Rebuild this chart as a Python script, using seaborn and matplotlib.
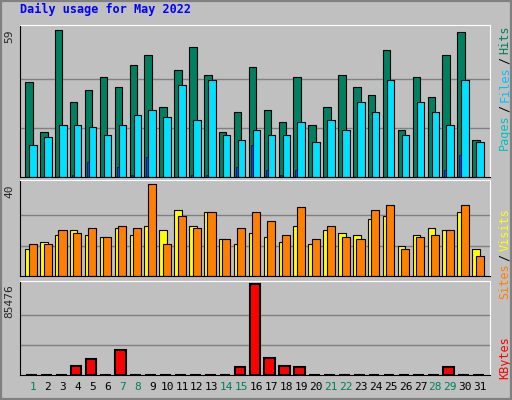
import numpy as np
import matplotlib
matplotlib.use('Agg')
import matplotlib.pyplot as plt
import seaborn as sns

sns.set_style('white')
plt.rcParams['font.family'] = ['DejaVu Sans Mono', 'DejaVu Sans']

days = np.arange(1, 32)
weekend = [1, 7, 8, 14, 15, 21, 22, 28, 29]
hits = [38, 18, 59, 30, 35, 40, 36, 45, 49, 28, 43, 52, 41, 18, 26, 44,
        27, 22, 40, 21, 28, 41, 36, 33, 51, 19, 40, 32, 49, 58, 15]
files = [13, 16, 21, 21, 20, 17, 21, 25, 27, 24, 37, 23, 39, 17, 15, 19,
         17, 17, 22, 14, 23, 19, 30, 26, 39, 17, 30, 26, 21, 39, 14]
pages = [0, 0, 0, 1, 6, 0, 4, 1, 8, 0, 0, 1, 1, 0, 4, 13,
         3, 1, 3, 0, 0, 0, 0, 0, 0, 0, 0, 0, 3, 9, 0]
sites = [12, 15, 18, 20, 18, 17, 21, 18, 22, 20, 29, 22, 28, 16, 14, 19,
         17, 15, 22, 14, 20, 19, 18, 25, 26, 13, 18, 21, 20, 28, 12]
visits = [14, 14, 20, 19, 21, 17, 22, 21, 40, 14, 26, 21, 28, 16, 21, 28,
          24, 18, 30, 16, 22, 17, 16, 29, 31, 12, 17, 18, 20, 31, 9]
kbytes = [0, 0, 0, 8450, 15030, 0, 23480, 0, 0, 0, 0, 0, 0, 0, 7510, 85476,
          15970, 8450, 7510, 0, 0, 0, 0, 0, 0, 0, 0, 0, 7510, 0, 0]

BG = '#C0C0C0'
fig = plt.figure(figsize=(5.12, 4.0), dpi=100, facecolor=BG)
fig.patches.append(plt.Rectangle((0, 0), 1, 1, transform=fig.transFigure,
                                 fill=False, edgecolor='#808080', lw=3))
fig.text(20 / 512, 1 - 16 / 400, 'Daily usage for May 2022', color='#0000FF',
         fontsize=8.5, fontweight='bold', ha='left', va='bottom')

x0, w = 20 / 512, 470 / 512
ax1 = fig.add_axes([x0, 223 / 400, w, 152 / 400])
ax2 = fig.add_axes([x0, 123.7 / 400, w, 96 / 400])
ax3 = fig.add_axes([x0, 24.7 / 400, w, 94.6 / 400])

kw = dict(edgecolor='black', linewidth=0.8, align='edge')
ax1.bar(days - 0.52, hits, 0.5, color='#008060', **kw)
ax1.bar(days - 0.25, files, 0.5, color='#00E0FF', **kw)
ax1.bar(days - 0.39, pages, 0.13, color='#0040FF', edgecolor='black', linewidth=0.4, align='edge')
ax2.bar(days - 0.52, sites, 0.5, color='#FFFF00', **kw)
ax2.bar(days - 0.29, visits, 0.54, color='#FF8000', **kw)
ax3.bar(days - 0.47, kbytes, 0.72, color='#FF0000', edgecolor='black', linewidth=1.5, align='edge')

for ax, mx, top in [(ax1, 59, 61), (ax2, 40, 41.7), (ax3, 85476, 88860)]:
    ax.set_facecolor(BG)
    ax.set_xlim(0.128, 31.67)
    ax.set_ylim(0, top)
    for g in (mx / 3, 2 * mx / 3):
        ax.axhline(g, color='#808080', lw=1, zorder=0)
    ax.set_yticks([])
    ax.set_xticks([])
    for s in ax.spines.values():
        s.set_color('black')
    ax.spines['right'].set_color('white')
    ax.spines['top'].set_color('white')
    ax.text(-0.012, mx / top, str(mx), transform=ax.transAxes, rotation=90,
            ha='right', va='top', fontsize=8)

ax3.set_xticks(days)
ax3.set_xticklabels([str(d) for d in days], fontsize=8)
ax3.tick_params(axis='x', length=0, pad=5)
for lab, d in zip(ax3.get_xticklabels(), days):
    lab.set_color('#00805C' if d in weekend else 'black')


def side_label(ax, parts, y_top):
    # stack rotated words from the top downwards
    y = y_top
    for txt, col in reversed(parts):
        t = ax.annotate(txt, xy=(1.0, 1.0), xycoords='axes fraction',
                        xytext=(6, -y), textcoords='offset points', rotation=90,
                        ha='left', va='top', color=col, fontsize=8.5)
        y += len(txt) * 5.15 + 2


side_label(ax1, [('Pages', '#00C0C0'), ('/', 'black'), ('Files', '#00C0FF'),
                 ('/', 'black'), ('Hits', '#00805C')], 0)
side_label(ax2, [('Sites', '#FF8000'), ('/', 'black'), ('Visits', '#FFFF00')], 20)
side_label(ax3, [('KBytes', '#FF0000')], 40)

fig.savefig('out.png', dpi=100, facecolor=BG)
